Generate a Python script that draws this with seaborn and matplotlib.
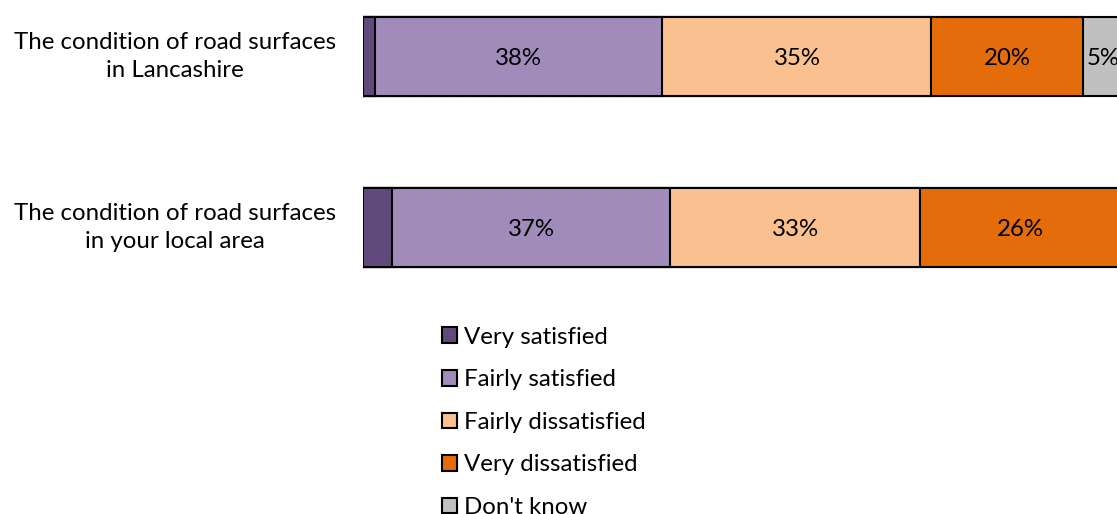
import matplotlib
matplotlib.use("Agg")
import matplotlib.pyplot as plt
import matplotlib.transforms as mtransforms
from matplotlib.patches import Patch
import seaborn as sns
import pandas as pd
import numpy as np

# ---- data ----
categories = ["The condition of road surfaces\nin Lancashire",
              "The condition of road surfaces\nin your local area"]
segments = ["Very satisfied", "Fairly satisfied", "Fairly dissatisfied",
            "Very dissatisfied", "Don't know"]
lancashire = [1.6, 37.8, 35.4, 20.0, 5.2]
local_area = [3.8, 36.6, 32.9, 26.4, 0.3]
colors = ["#604A7B", "#A18BBB", "#FAC090", "#E46C0A", "#C0C0C0"]

sns.set_theme(style="white")
plt.rcParams["font.family"] = ["Lato", "DejaVu Sans"]
plt.rcParams["text.color"] = "black"
FS = 17.3

W, H = 1117, 514
fig = plt.figure(figsize=(W / 100, H / 100), dpi=100)
# axes: 0% at x=363px, 100% at x=1123px (cropped by figure edge)
ax = fig.add_axes([363 / W, 0, 760 / W, 1])

rows = []
for cat, vals in zip(categories, [lancashire, local_area]):
    cum = np.cumsum(vals)
    for seg, v, c in zip(segments, vals, cum):
        rows.append({"category": cat, "segment": seg, "value": v, "cum": c})
df = pd.DataFrame(rows)

# stacked bars: draw cumulative totals from the last segment to the first
for seg, col in reversed(list(zip(segments, colors))):
    sub = df[df["segment"] == seg]
    sns.barplot(data=sub, x="cum", y="category", order=categories,
                color=col, edgecolor="black", linewidth=1.5, width=0.462,
                errorbar=None, orient="h", ax=ax, saturation=1)

# value labels
for i, cat in enumerate(categories):
    sub = df[df["category"] == cat]
    for _, r in sub.iterrows():
        if round(r["value"]) >= 5:
            ax.text(r["cum"] - r["value"] / 2, i + 0.012, f"{round(r['value'])}%",
                    ha="center", va="center", fontsize=FS, color="black")

ax.set_xlim(0, 100)
ax.set_ylim(2.676, -0.330)
ax.set_axis_off()

# category labels
trans = mtransforms.blended_transform_factory(fig.transFigure, ax.transData)
for i, cat in enumerate(categories):
    ax.text(175 / W, i, cat, transform=trans, ha="center", va="center",
            multialignment="center", fontsize=FS, color="black",
            linespacing=1.45)

handles = [Patch(facecolor=c, edgecolor="black", linewidth=1.5, label=s)
           for s, c in zip(segments, colors)]
fig.legend(handles=handles, loc="upper left",
           bbox_to_anchor=(432 / W, 1 - 317 / H), frameon=False,
           fontsize=FS, handlelength=0.62, handleheight=0.62,
           handletextpad=0.3, labelspacing=0.9, borderaxespad=0,
           labelcolor="black")

fig.savefig("out.png", dpi=100)
